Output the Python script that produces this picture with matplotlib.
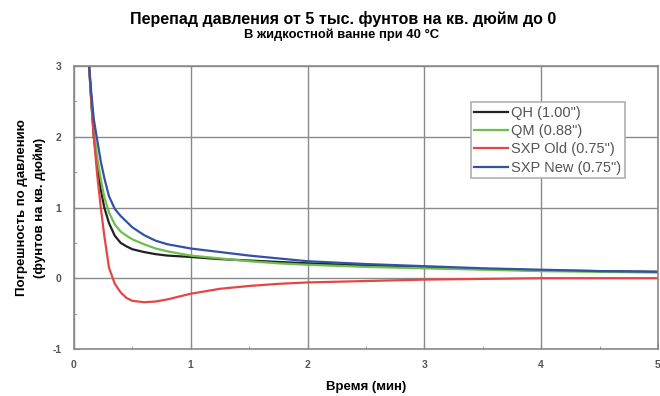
import matplotlib
matplotlib.use("Agg")
import matplotlib.pyplot as plt
from matplotlib.ticker import MultipleLocator

plt.rcParams["font.family"] = ["Liberation Sans", "DejaVu Sans"]
plt.rcParams["axes.unicode_minus"] = False

TITLE = "Перепад давления от 5 тыс. фунтов на кв. дюйм до 0"
SUBTITLE = "В жидкостной ванне при 40 °C"
X_LABEL = "Время (мин)"
Y_LABEL = "Погрешность по давлению\n(фунтов на кв. дюйм)"

# time (min) for each series
t = [0.13, 0.15, 0.17, 0.2, 0.23, 0.26, 0.3, 0.35, 0.4, 0.45, 0.5, 0.6, 0.7,
     0.8, 0.9, 1.0, 1.25, 1.5, 1.75, 2.0, 2.5, 3.0, 3.5, 4.0, 4.5, 5.0]

qh = [3.0, 2.45, 2.0, 1.6, 1.25, 1.0, 0.78, 0.6, 0.5, 0.45, 0.41, 0.37, 0.34,
      0.32, 0.31, 0.30, 0.27, 0.25, 0.23, 0.21, 0.18, 0.15, 0.13, 0.11, 0.10, 0.09]
qm = [3.0, 2.5, 2.1, 1.7, 1.4, 1.15, 0.93, 0.76, 0.66, 0.6, 0.55, 0.48, 0.42,
      0.38, 0.35, 0.32, 0.28, 0.24, 0.21, 0.19, 0.16, 0.14, 0.12, 0.10, 0.09, 0.08]
sxp_old = [3.0, 2.5, 2.0, 1.45, 1.0, 0.6, 0.15, -0.08, -0.2, -0.28, -0.32, -0.34, -0.33,
           -0.3, -0.26, -0.22, -0.15, -0.11, -0.08, -0.06, -0.04, -0.02, -0.01, 0.0, 0.0, 0.0]
sxp_new = [3.0, 2.6, 2.25, 1.95, 1.65, 1.42, 1.16, 0.98, 0.88, 0.8, 0.72, 0.61, 0.53,
           0.48, 0.45, 0.42, 0.37, 0.32, 0.28, 0.24, 0.2, 0.17, 0.14, 0.12, 0.10, 0.09]

series = [
    ("QH (1.00\")", qh, "#222222"),
    ("QM (0.88\")", qm, "#6cbf4a"),
    ("SXP Old (0.75\")", sxp_old, "#e64545"),
    ("SXP New (0.75\")", sxp_new, "#3452a4"),
]

fig = plt.figure(figsize=(6.6, 3.96), dpi=100)
ax = fig.add_axes([0.112, 0.119, 0.885, 0.714])

for label, y, color in series:
    ax.plot(t, y, color=color, lw=1.6, label=label)

ax.set_xlim(0, 5)
ax.set_ylim(-1, 3)
ax.xaxis.set_major_locator(MultipleLocator(1))
ax.yaxis.set_major_locator(MultipleLocator(1))
ax.xaxis.set_minor_locator(MultipleLocator(0.5))
ax.yaxis.set_minor_locator(MultipleLocator(0.5))
ax.grid(True, which="major", color="#8a8a8a", lw=1.0)
ax.set_axisbelow(True)
for s in ax.spines.values():
    s.set_color("#8a8a8a")
    s.set_linewidth(1.2)
ax.tick_params(which="both", colors="#8a8a8a", direction="in", labelsize=7.5,
               labelcolor="#555555")
ax.tick_params(which="major", length=4)
ax.tick_params(which="minor", length=2)
ax.tick_params(axis="x", pad=8)
ax.tick_params(axis="y", pad=9)
for lbl in ax.get_xticklabels() + ax.get_yticklabels():
    lbl.set_fontweight("bold")

ax.set_xlabel(X_LABEL, fontsize=9.5, fontweight="bold", labelpad=8)
ax.set_ylabel(Y_LABEL, fontsize=9.5, fontweight="bold", linespacing=1.55, va="center")
ax.yaxis.set_label_coords(-0.074, 0.5)

fig.text(0.52, 0.953, TITLE, ha="center", va="center", fontsize=11.5, fontweight="bold")
fig.text(0.518, 0.913, SUBTITLE, ha="center", va="center", fontsize=9.4, fontweight="bold")

leg = ax.legend(loc="upper right", bbox_to_anchor=(0.943, 0.873), borderaxespad=0,
                fontsize=10.5, handlelength=2.3, handletextpad=0.2, labelspacing=0.3,
                fancybox=False, framealpha=1, edgecolor="#b0b0b0", borderpad=0.25)
leg.get_frame().set_linewidth(1.2)
for txt in leg.get_texts():
    txt.set_color("#555555")

fig.savefig("out.png", dpi=100)
